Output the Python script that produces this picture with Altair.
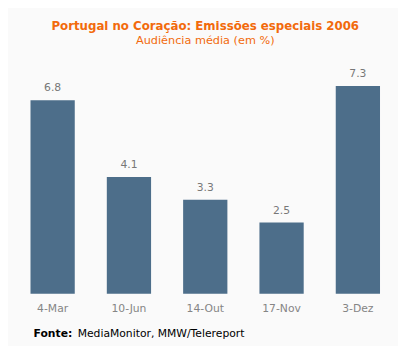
import altair as alt
import pandas as pd

categories = ["4-Mar", "10-Jun", "14-Out", "17-Nov", "3-Dez"]
values = [6.8, 4.1, 3.3, 2.5, 7.3]
title_text = "Portugal no Coração: Emissões especiais 2006"
subtitle_text = "Audiência média (em %)"
source_bold = "Fonte:"
source_text = "MediaMonitor, MMW/Telereport"

df = pd.DataFrame({"cat": categories, "val": values})

W = 389
H = 232
FONT = "DejaVu Sans"

x = alt.X("cat:N", sort=categories, title=None,
          scale=alt.Scale(paddingInner=0.42, paddingOuter=0.21),
          axis=alt.Axis(labelAngle=0, ticks=False, domain=False, labelPadding=9,
                        labelFont=FONT, labelFontSize=11, labelColor="#858585"))
y = alt.Y("val:Q", title=None, scale=alt.Scale(domain=[0, 8], nice=False),
          axis=None)

base = alt.Chart(df).encode(x=x, y=y)
bars = base.mark_bar(color="#4d6e8a")
labels = base.mark_text(baseline="bottom", dy=-7, font=FONT, fontSize=11,
                        color="#777777").encode(text=alt.Text("val:Q", format=".1f"))

tdf = pd.DataFrame({"t": [title_text]})
sdf = pd.DataFrame({"t": [subtitle_text]})
bdf = pd.DataFrame({"t": [source_bold]})
rdf = pd.DataFrame({"t": [source_text]})

title = alt.Chart(tdf).mark_text(font=FONT, fontSize=12, fontWeight="bold",
                                 color="#f26a0c", align="center", baseline="alphabetic").encode(
    text="t:N", x=alt.value(W / 2), y=alt.value(-37))
subtitle = alt.Chart(sdf).mark_text(font=FONT, fontSize=11.5, color="#f26a0c",
                                    align="center", baseline="alphabetic").encode(
    text="t:N", x=alt.value(W / 2), y=alt.value(-23))
src_b = alt.Chart(bdf).mark_text(font=FONT, fontSize=11, fontWeight="bold", color="#000000",
                                 align="left", baseline="alphabetic").encode(
    text="t:N", x=alt.value(19.4), y=alt.value(276))
src_r = alt.Chart(rdf).mark_text(font=FONT, fontSize=11, color="#000000",
                                 align="left", baseline="alphabetic").encode(
    text="t:N", x=alt.value(64.4), y=alt.value(276))

chart = alt.layer(bars, labels, title, subtitle, src_b, src_r).properties(
    width=W, height=H,
    autosize=alt.AutoSizeParams(type="none"),
    padding={"left": 6.6, "top": 56, "right": 2, "bottom": 50},
    background="#fafafa",
).configure_view(stroke=None)

chart.save("out.html", embed_options={"renderer": "svg", "actions": False})
